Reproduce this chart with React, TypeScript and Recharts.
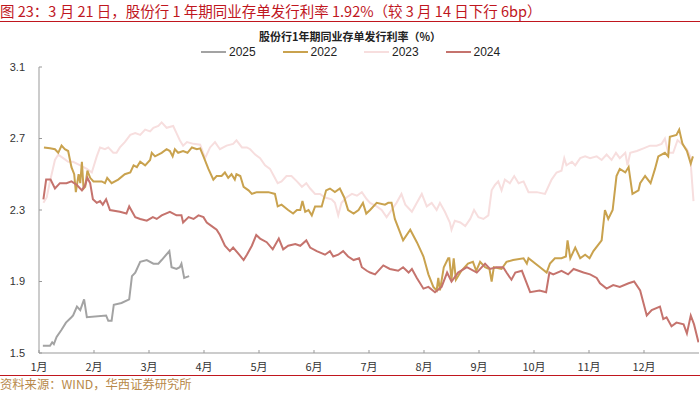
import { LineChart, Line, XAxis, YAxis, Legend } from 'recharts';

const FONT = '"Liberation Sans", Arial, "Noto Sans CJK SC", sans-serif';
const CJK = '"Noto Sans CJK SC", "Liberation Sans", sans-serif';

const monthLabels = ['1月', '2月', '3月', '4月', '5月', '6月', '7月', '8月', '9月', '10月', '11月', '12月'];
const monthTicks = [0, 1, 2, 3, 4, 5, 6, 7, 8, 9, 10, 11];
const rateTicks = [1.5, 1.9, 2.3, 2.7, 3.1];

const legendOrder = ['2025', '2022', '2023', '2024'];

// x = position in months (0 = 1月初), y = rate %
const pos2025 = [0.07, 0.2, 0.24, 0.27, 0.32, 0.41, 0.49, 0.59, 0.62, 0.69, 0.75, 0.82, 0.87, 1.22, 1.26, 1.32, 1.36, 1.5, 1.64, 1.69, 1.75, 1.84, 1.96, 2.08, 2.17, 2.23, 2.37, 2.41, 2.5, 2.56, 2.59, 2.64, 2.73];
const rate2025 = [1.54, 1.54, 1.56, 1.55, 1.59, 1.63, 1.67, 1.7, 1.71, 1.76, 1.74, 1.8, 1.7, 1.71, 1.68, 1.68, 1.77, 1.78, 1.8, 1.93, 1.95, 2.01, 2.02, 2.0, 2.0, 2.02, 2.07, 1.98, 1.97, 1.98, 2.0, 1.92, 1.93];

const pos2024 = [0.08, 0.13, 0.21, 0.29, 0.38, 0.5, 0.59, 0.69, 0.78, 0.84, 0.88, 0.93, 0.98, 1.05, 1.11, 1.16, 1.22, 1.29, 1.47, 1.59, 1.64, 1.75, 1.84, 1.96, 2.07, 2.14, 2.23, 2.38, 2.5, 2.59, 2.62, 2.72, 2.81, 2.9, 2.99, 3.05, 3.14, 3.23, 3.29, 3.38, 3.47, 3.53, 3.64, 3.72, 3.78, 3.87, 3.95, 4.02, 4.14, 4.25, 4.36, 4.44, 4.53, 4.66, 4.75, 4.86, 4.93, 5.05, 5.2, 5.29, 5.35, 5.44, 5.53, 5.62, 5.72, 5.82, 5.87, 5.96, 6.02, 6.11, 6.26, 6.38, 6.53, 6.62, 6.72, 6.78, 6.87, 6.99, 7.08, 7.2, 7.32, 7.42, 7.5, 7.62, 7.78, 7.96, 8.11, 8.2, 8.32, 8.44, 8.5, 8.59, 8.66, 8.78, 8.93, 9.1, 9.22, 9.28, 9.35, 9.5, 9.62, 9.72, 9.9, 10.02, 10.14, 10.2, 10.32, 10.44, 10.56, 10.72, 10.82, 10.93, 11.05, 11.14, 11.29, 11.35, 11.41, 11.5, 11.59, 11.72, 11.78, 11.85, 11.91, 11.99];
const rate2024 = [2.36, 2.47, 2.47, 2.42, 2.45, 2.45, 2.46, 2.44, 2.41, 2.44, 2.48, 2.45, 2.36, 2.34, 2.35, 2.33, 2.36, 2.3, 2.29, 2.28, 2.32, 2.26, 2.25, 2.24, 2.26, 2.25, 2.27, 2.29, 2.27, 2.27, 2.23, 2.26, 2.25, 2.27, 2.26, 2.23, 2.21, 2.19, 2.16, 2.1, 2.07, 2.09, 2.05, 2.02, 2.05, 2.1, 2.16, 2.14, 2.12, 2.08, 2.14, 2.08, 2.1, 2.11, 2.1, 2.13, 2.09, 2.07, 2.05, 2.07, 2.04, 2.05, 2.07, 2.04, 2.02, 2.03, 1.98, 1.96, 1.95, 1.94, 1.99, 1.97, 1.96, 1.98, 1.95, 1.97, 1.92, 1.86, 1.87, 1.84, 1.87, 1.95, 1.9, 1.95, 1.98, 1.95, 2.0, 1.97, 1.98, 1.98, 1.95, 1.91, 1.95, 1.96, 1.84, 1.85, 1.84, 1.95, 1.94, 1.96, 1.94, 1.97, 1.95, 1.94, 1.92, 1.89, 1.86, 1.88, 1.87, 1.89, 1.9, 1.85, 1.71, 1.74, 1.76, 1.69, 1.7, 1.65, 1.67, 1.66, 1.61, 1.71, 1.66, 1.56];

const pos2022 = [0.09, 0.2, 0.29, 0.35, 0.41, 0.47, 0.53, 0.59, 0.64, 0.67, 0.72, 0.75, 0.78, 0.81, 0.84, 0.88, 0.93, 0.99, 1.14, 1.2, 1.24, 1.32, 1.44, 1.56, 1.66, 1.72, 1.78, 1.84, 1.93, 2.02, 2.05, 2.11, 2.23, 2.32, 2.38, 2.43, 2.47, 2.53, 2.62, 2.7, 2.78, 2.87, 2.93, 2.99, 3.08, 3.17, 3.23, 3.32, 3.38, 3.44, 3.5, 3.56, 3.59, 3.66, 3.72, 3.81, 3.87, 3.96, 4.17, 4.29, 4.34, 4.41, 4.53, 4.62, 4.69, 4.75, 4.79, 4.84, 4.9, 4.96, 5.02, 5.14, 5.22, 5.29, 5.38, 5.47, 5.55, 5.62, 5.72, 5.81, 5.89, 5.95, 6.02, 6.14, 6.29, 6.35, 6.41, 6.47, 6.62, 6.75, 6.87, 6.99, 7.08, 7.17, 7.23, 7.26, 7.29, 7.36, 7.44, 7.46, 7.5, 7.54, 7.58, 7.68, 7.8, 7.89, 7.95, 8.02, 8.11, 8.19, 8.23, 8.27, 8.41, 8.5, 8.62, 8.81, 8.87, 8.9, 9.11, 9.23, 9.29, 9.38, 9.5, 9.58, 9.61, 9.66, 9.75, 9.84, 9.93, 10.01, 10.08, 10.23, 10.29, 10.35, 10.43, 10.5, 10.56, 10.66, 10.72, 10.79, 10.9, 10.93, 11.02, 11.12, 11.2, 11.26, 11.38, 11.44, 11.47, 11.59, 11.64, 11.7, 11.78, 11.85, 11.89];
const rate2022 = [2.65, 2.645, 2.64, 2.62, 2.66, 2.64, 2.63, 2.54, 2.5, 2.4, 2.5, 2.45, 2.57, 2.42, 2.43, 2.52, 2.48, 2.46, 2.46, 2.45, 2.48, 2.45, 2.47, 2.5, 2.51, 2.55, 2.54, 2.57, 2.55, 2.58, 2.62, 2.6, 2.62, 2.64, 2.63, 2.6, 2.64, 2.62, 2.63, 2.62, 2.65, 2.64, 2.645, 2.6, 2.53, 2.47, 2.49, 2.49, 2.51, 2.48, 2.5, 2.47, 2.5, 2.49, 2.43, 2.41, 2.39, 2.4, 2.4, 2.39, 2.32, 2.33, 2.3, 2.28, 2.3, 2.3, 2.35, 2.29, 2.3, 2.27, 2.32, 2.32, 2.41, 2.42, 2.4, 2.42, 2.37, 2.3, 2.28, 2.3, 2.34, 2.28, 2.3, 2.34, 2.33, 2.34, 2.34, 2.25, 2.13, 2.19, 2.12, 2.04, 1.94, 1.87, 1.85, 1.92, 1.85, 1.98, 2.03, 2.03, 1.91, 2.03, 1.91, 1.96, 2.0, 2.01, 1.96, 2.01, 1.98, 1.97, 1.9, 1.98, 1.97, 2.01, 2.02, 2.03, 2.0, 2.03, 1.98, 1.95, 2.0, 2.03, 2.03, 2.04, 2.13, 2.03, 2.09, 2.03, 2.05, 2.03, 2.07, 2.13, 2.3, 2.25, 2.3, 2.49, 2.53, 2.51, 2.54, 2.39, 2.41, 2.45, 2.49, 2.45, 2.53, 2.6, 2.62, 2.6, 2.71, 2.72, 2.75, 2.67, 2.63, 2.56, 2.6];

const pos2023 = [0.08, 0.14, 0.2, 0.29, 0.35, 0.44, 0.53, 0.62, 0.75, 0.87, 0.96, 1.05, 1.11, 1.2, 1.26, 1.35, 1.41, 1.47, 1.56, 1.66, 1.75, 1.84, 1.93, 2.02, 2.08, 2.17, 2.23, 2.32, 2.44, 2.5, 2.56, 2.62, 2.69, 2.81, 2.93, 3.02, 3.11, 3.2, 3.29, 3.41, 3.53, 3.59, 3.69, 3.78, 3.84, 3.93, 4.02, 4.11, 4.2, 4.27, 4.34, 4.41, 4.5, 4.59, 4.69, 4.78, 4.86, 4.93, 5.02, 5.11, 5.2, 5.32, 5.38, 5.44, 5.5, 5.59, 5.69, 5.78, 5.87, 5.96, 6.02, 6.14, 6.23, 6.32, 6.41, 6.5, 6.59, 6.66, 6.78, 6.87, 6.96, 7.05, 7.14, 7.23, 7.29, 7.38, 7.47, 7.5, 7.56, 7.66, 7.75, 7.84, 7.91, 7.99, 8.08, 8.17, 8.23, 8.29, 8.35, 8.41, 8.47, 8.56, 8.64, 8.72, 8.81, 8.9, 9.05, 9.2, 9.32, 9.41, 9.5, 9.55, 9.59, 9.69, 9.75, 9.84, 9.93, 10.02, 10.14, 10.23, 10.32, 10.41, 10.49, 10.56, 10.66, 10.7, 10.75, 10.87, 10.99, 11.11, 11.23, 11.32, 11.38, 11.44, 11.53, 11.61, 11.69, 11.78, 11.84, 11.9];
const rate2023 = [2.34, 2.37, 2.46, 2.58, 2.61, 2.59, 2.57, 2.57, 2.55, 2.53, 2.51, 2.6, 2.65, 2.64, 2.65, 2.62, 2.62, 2.65, 2.68, 2.72, 2.73, 2.72, 2.75, 2.74, 2.76, 2.77, 2.79, 2.76, 2.77, 2.73, 2.69, 2.66, 2.68, 2.67, 2.665, 2.59, 2.65, 2.68, 2.64, 2.66, 2.67, 2.69, 2.65, 2.65, 2.64, 2.61, 2.59, 2.55, 2.53, 2.49, 2.45, 2.46, 2.49, 2.49, 2.46, 2.43, 2.45, 2.42, 2.39, 2.39, 2.37, 2.36, 2.34, 2.27, 2.34, 2.37, 2.39, 2.38, 2.4, 2.36, 2.34, 2.32, 2.3, 2.26, 2.3, 2.34, 2.39, 2.33, 2.29, 2.34, 2.39, 2.32, 2.34, 2.3, 2.34, 2.29, 2.23, 2.19, 2.24, 2.23, 2.21, 2.25, 2.3, 2.26, 2.25, 2.27, 2.41, 2.44, 2.46, 2.41, 2.47, 2.45, 2.49, 2.45, 2.46, 2.4, 2.4, 2.39, 2.47, 2.51, 2.52, 2.59, 2.55, 2.57, 2.55, 2.59, 2.6, 2.59, 2.6, 2.58, 2.61, 2.58, 2.62, 2.59, 2.62, 2.55, 2.62, 2.63, 2.645, 2.66, 2.66, 2.67, 2.7, 2.62, 2.62, 2.69, 2.67, 2.64, 2.6, 2.35];

const colors: Record<string, string> = {
  '2025': '#A3A3A3',
  '2022': '#C9A24E',
  '2023': '#F7DEDE',
  '2024': '#C5736D',
};

const toPoints = (xs: number[], ys: number[]) => xs.map((m, i) => ({ m, v: ys[i] }));

const series = [
  { name: '2023', data: toPoints(pos2023, rate2023) },
  { name: '2022', data: toPoints(pos2022, rate2022) },
  { name: '2024', data: toPoints(pos2024, rate2024) },
  { name: '2025', data: toPoints(pos2025, rate2025) },
];

const LegendRow = () => (
  <div style={{ display: 'flex', paddingLeft: 201, fontFamily: FONT, fontSize: 12, color: '#222' }}>
    {legendOrder.map((name) => (
      <div key={name} style={{ width: 81.5, display: 'flex', alignItems: 'center' }}>
        <span style={{ width: 25, height: 2, background: colors[name], marginRight: 3 }} />
        <span>{name}</span>
      </div>
    ))}
  </div>
);

export default function App() {
  return (
    <div style={{ position: 'absolute', left: 0, top: 0, width: 700, height: 394, background: '#fff', overflow: 'hidden' }}>
      <div style={{ position: 'absolute', left: 0, top: 2, fontFamily: CJK, fontSize: 14.5, color: '#C0161E', whiteSpace: 'nowrap', lineHeight: '17px' }}>
        图 23：3 月 21 日，股份行 1 年期同业存单发行利率 1.92%（较 3 月 14 日下行 6bp）
      </div>
      <div style={{ position: 'absolute', left: 0, top: 21, width: 700, height: 1, background: '#C0161E' }} />
      <div style={{ position: 'absolute', left: 0, top: 28, width: 700, textAlign: 'center', fontFamily: CJK, fontSize: 11, fontWeight: 'bold', color: '#222' }}>
        股份行1年期同业存单发行利率（%）
      </div>

      <div style={{ position: 'absolute', left: 0, top: 0 }}>
        <LineChart width={700} height={394} margin={{ top: 53, right: 1, bottom: 11, left: 0 }}>
          <XAxis
            dataKey="m"
            type="number"
            domain={[0, 12]}
            ticks={monthTicks}
            allowDataOverflow
            tickFormatter={(t: number) => monthLabels[t]}
            stroke="#999"
            tickSize={-3}
            tickMargin={13}
            height={30}
            tick={{ fill: '#333', fontSize: 11, fontFamily: CJK }}
          />
          <YAxis
            type="number"
            domain={[1.5, 3.1]}
            ticks={rateTicks}
            tickFormatter={(t: number) => t.toFixed(1)}
            width={39}
            stroke="#999"
            tickSize={-3}
            tickMargin={17}
            tick={{ fill: '#333', fontSize: 11, fontFamily: FONT }}
          />
          <Legend
            verticalAlign="top"
            wrapperStyle={{ top: 45, left: 0, width: 700 }}
            content={() => <LegendRow />}
          />
          {series.map((s) => (
            <Line
              key={s.name}
              data={s.data}
              dataKey="v"
              name={s.name}
              type="linear"
              stroke={colors[s.name]}
              strokeWidth={2}
              dot={false}
              isAnimationActive={false}
            />
          ))}
        </LineChart>
      </div>

      <div style={{ position: 'absolute', left: 0, top: 375, width: 700, height: 1, background: '#C0161E' }} />
      <div style={{ position: 'absolute', left: 0, top: 377, fontFamily: CJK, fontSize: 12.3, color: '#B8894A', whiteSpace: 'nowrap', lineHeight: '15px' }}>
        资料来源：WIND，华西证券研究所
      </div>
    </div>
  );
}
